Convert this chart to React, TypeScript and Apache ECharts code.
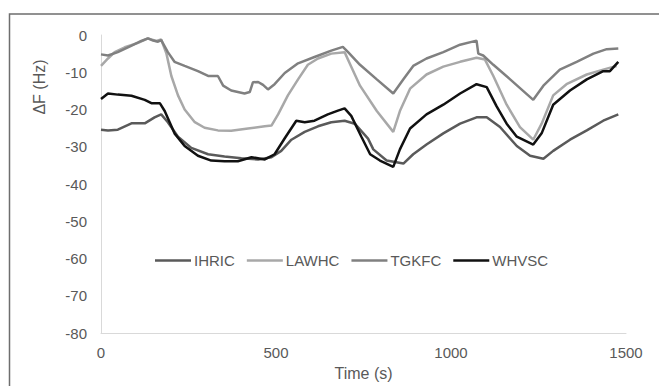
import React, { useEffect, useRef } from "react";
import * as echarts from "echarts";

const seriesNames = ["IHRIC", "LAWHC", "TGKFC", "WHVSC"];
const xTicks = [0, 500, 1000, 1500];
const yTicks = [0, -10, -20, -30, -40, -50, -60, -70, -80];

const ihricT = [0, 20, 48, 87, 125, 153, 172, 191, 220, 258, 306, 353, 401, 449, 487, 515, 544, 582, 620, 658, 696, 725, 763, 778, 816, 864, 892, 930, 978, 1026, 1073, 1102, 1140, 1188, 1226, 1264, 1292, 1340, 1388, 1435, 1478];
const ihricV = [-25.4, -25.6, -25.4, -23.7, -23.7, -22.1, -21.3, -23.4, -27.3, -30.3, -32, -32.6, -33.1, -33.4, -32.8, -31.1, -28.1, -26, -24.5, -23.4, -23, -23.8, -27.8, -30.7, -33.7, -34.5, -32, -29.4, -26.4, -23.8, -22.1, -22.1, -24.7, -29.8, -32.4, -33.2, -31.1, -28.1, -25.6, -23, -21.3];

const lawhcT = [0, 20, 39, 68, 106, 134, 158, 172, 187, 201, 220, 239, 268, 296, 334, 372, 420, 468, 487, 506, 534, 563, 591, 620, 658, 696, 715, 740, 788, 835, 854, 883, 930, 978, 1026, 1073, 1097, 1121, 1159, 1197, 1235, 1259, 1292, 1330, 1388, 1435, 1473];
const lawhcV = [-8.3, -6.3, -4.6, -3.3, -2.1, -0.9, -1.6, -1.2, -5, -11, -16.2, -20, -23.4, -24.9, -25.6, -25.7, -25.1, -24.5, -24.3, -21.3, -16.2, -11.9, -8, -6.3, -5, -4.6, -8.5, -13.6, -20.4, -26, -20.4, -14.4, -10.6, -8.5, -7.2, -6.1, -6.6, -11, -18.7, -24.7, -28.1, -23.8, -16.2, -13.2, -10.6, -9.3, -8.3];

const tgkfcT = [0, 20, 48, 86, 115, 134, 149, 163, 172, 191, 210, 239, 277, 306, 334, 349, 372, 410, 425, 434, 449, 463, 477, 496, 525, 563, 610, 658, 691, 706, 740, 788, 835, 864, 892, 930, 978, 1026, 1073, 1078, 1092, 1121, 1169, 1235, 1264, 1311, 1359, 1407, 1445, 1478];
const tgkfcV = [-5.2, -5.5, -4.6, -2.9, -1.6, -0.9, -1.5, -1.8, -1.4, -4.6, -7.2, -8.3, -9.7, -11, -11, -13.6, -14.9, -15.7, -15.3, -12.7, -12.6, -13.4, -14.6, -13.2, -10.2, -7.6, -5.9, -4.2, -3.2, -4.6, -8, -11.9, -15.7, -11.9, -8.3, -6.3, -4.6, -2.6, -1.5, -5, -5.5, -8, -11.9, -17.4, -13.6, -9.3, -7.2, -5, -3.8, -3.6];

const whvscT = [0, 20, 48, 87, 125, 144, 168, 182, 210, 239, 277, 315, 353, 391, 430, 468, 496, 525, 558, 582, 610, 648, 677, 696, 715, 744, 769, 797, 835, 854, 883, 930, 978, 1026, 1073, 1102, 1130, 1159, 1188, 1235, 1259, 1292, 1340, 1388, 1435, 1454, 1478];
const whvscV = [-17.2, -15.7, -16, -16.3, -17.4, -18.3, -18.3, -20.4, -26.4, -29.8, -32.4, -33.7, -33.9, -33.9, -32.8, -33.4, -32, -27.7, -23, -23.4, -23, -21.3, -20.3, -19.7, -21.7, -27.3, -32, -33.7, -35.4, -30.7, -25.1, -21.3, -18.7, -15.7, -13.2, -14, -19.1, -23.8, -27.3, -29.4, -26.4, -18.7, -14.9, -11.9, -9.7, -9.7, -7.2];

const colors = ["#5a5a5a", "#a8a8a8", "#808080", "#111111"];

const pair = (t: number[], v: number[]) => t.map((x, i) => [x, v[i]]);

export default function App() {
  const ref = useRef<HTMLDivElement>(null);
  useEffect(() => {
    if (!ref.current) return;
    const chart = echarts.init(ref.current, null, { renderer: "svg", width: 659, height: 386 });
    const font = "'Liberation Sans', Arial, sans-serif";
    const data = [pair(ihricT, ihricV), pair(lawhcT, lawhcV), pair(tgkfcT, tgkfcV), pair(whvscT, whvscV)];
    chart.setOption({
      animation: false,
      backgroundColor: "#ffffff",
      textStyle: { fontFamily: font },
      grid: { left: 101, width: 525, top: 35, height: 312, containLabel: false },
      legend: {
        left: 150,
        top: 248,
        icon: "rect",
        itemWidth: 36,
        itemHeight: 2.5,
        itemGap: 12,
        textStyle: { fontFamily: font, fontSize: 15, color: "#595959", padding: [0, 0, 0, -2] },
        data: seriesNames,
      },
      xAxis: {
        type: "value",
        min: xTicks[0],
        max: xTicks[xTicks.length - 1],
        interval: 500,
        name: "Time (s)",
        nameLocation: "middle",
        nameGap: 25,
        nameTextStyle: { fontFamily: font, fontSize: 16, color: "#595959" },
        axisLine: { show: true, onZero: false, lineStyle: { color: "#d9d9d9", width: 1 } },
        axisTick: { show: false },
        splitLine: { show: false },
        axisLabel: {
          fontFamily: font,
          fontSize: 15,
          color: "#595959",
          margin: 12,
          formatter: (v: number) => String(v),
        },
      },
      yAxis: {
        type: "value",
        min: yTicks[yTicks.length - 1],
        max: yTicks[0],
        interval: 10,
        axisLine: { show: true, onZero: false, lineStyle: { color: "#d9d9d9", width: 1 } },
        axisTick: { show: false },
        splitLine: { show: false },
        axisLabel: {
          fontFamily: font,
          fontSize: 15,
          color: "#595959",
          margin: 14,
          formatter: (v: number) => String(v),
        },
      },
      graphic: [
        {
          type: "rect",
          shape: { x: 9.5, y: 14, width: 700, height: 420 },
          style: { fill: "none", stroke: "#6e6e6e", lineWidth: 1.5 },
          silent: true,
        },
        {
          type: "text",
          x: 39,
          y: 87,
          rotation: Math.PI / 2,
          style: {
            text: "ΔF (Hz)",
            fontFamily: font,
            fontSize: 16,
            fill: "#595959",
            textAlign: "center",
            textVerticalAlign: "middle",
          },
        },
      ],
      series: seriesNames.map((name, i) => ({
        name,
        type: "line",
        data: data[i],
        symbol: "none",
        smooth: false,
        lineStyle: { color: colors[i], width: 2.5 },
        itemStyle: { color: colors[i] },
      })),
    });
    return () => chart.dispose();
  }, []);
  return (
    <div
      ref={ref}
      style={{ position: "fixed", left: 0, top: 0, width: 659, height: 386, background: "#fff" }}
    />
  );
}
